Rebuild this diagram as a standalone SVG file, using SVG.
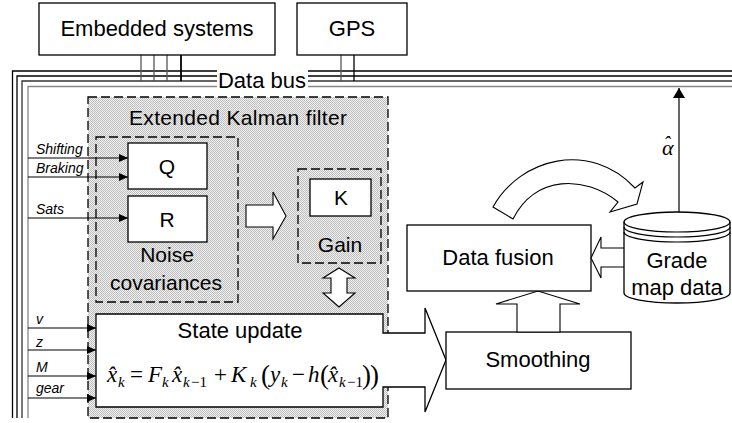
<svg xmlns="http://www.w3.org/2000/svg" width="732" height="423" viewBox="0 0 732 423">
<defs>
<pattern id="stip" width="2" height="2" patternUnits="userSpaceOnUse">
<rect width="2" height="2" fill="#f2f2f2"/>
<rect width="1" height="1" fill="#bcbcbc"/>
<rect x="1" y="1" width="1" height="1" fill="#bcbcbc"/>
</pattern>
<marker id="ah" markerUnits="userSpaceOnUse" markerWidth="9" markerHeight="8" refX="9" refY="4" orient="auto">
<path d="M0,0 L9,4 L0,8 Z" fill="#000"/>
</marker>
<marker id="ahb" markerUnits="userSpaceOnUse" markerWidth="10" markerHeight="12" refX="10" refY="6" orient="auto">
<path d="M0,0 L10,6 L0,12 Z" fill="#000"/>
</marker>
</defs>
<style>
.box{fill:#fff;stroke:#000;stroke-width:1.3}
.dash{fill:none;stroke:#000;stroke-width:1.3;stroke-dasharray:9 4}
.shade{fill:url(#stip);stroke:#000;stroke-width:1.3;stroke-dasharray:9 4}
.t{font-family:"Liberation Sans",Arial,sans-serif;fill:#000;text-anchor:middle}
.big{font-size:22px}
.lab{font-family:"Liberation Sans",Arial,sans-serif;font-style:italic;font-size:14px;fill:#000}
.ln{fill:none;stroke:#000;stroke-width:1.2}
.hol{fill:#fff;stroke:#000;stroke-width:1.1;stroke-linejoin:miter}
.eq{font-family:"Liberation Serif","Times New Roman",serif;font-size:23px;fill:#000}
.it{font-style:italic}
.sb{font-size:15px}
.pr{font-size:27px}
</style>

<g id="connectors">
<g fill="none" stroke-width="1.3">
<path d="M12.5,418 V71 H217 M308,71 H732" stroke="#000"/>
<path d="M17,418 V76 H217 M308,76 H732" stroke="#000"/>
<path d="M22,418 V81 H217 M308,81 H732" stroke="#333"/>
<path d="M28,418 V86.5 H217 M308,86.5 H732" stroke="#888"/>
</g>
<g fill="none" stroke-width="1.3">
<line x1="141" y1="55" x2="141" y2="81" stroke="#555"/>
<line x1="154" y1="55" x2="154" y2="81" stroke="#555"/>
<line x1="167" y1="55" x2="167" y2="81" stroke="#555"/>
<line x1="181" y1="55" x2="181" y2="81" stroke="#000" stroke-width="1.8"/>
<line x1="341" y1="55" x2="341" y2="81" stroke="#555"/>
<line x1="354" y1="55" x2="354" y2="81" stroke="#000"/>
</g>
<line class="ln" x1="679" y1="212" x2="679" y2="88" marker-end="url(#ahb)"/>
</g>

<g id="ekf">
<rect class="shade" x="88" y="97" width="300" height="321"/>
<text class="t" x="238" y="125" font-size="21" textLength="218" lengthAdjust="spacing">Extended Kalman filter</text>
</g>

<g id="noise">
<rect class="dash" x="96" y="137" width="142" height="165"/>
<text class="t" x="167" y="262" font-size="21">Noise</text>
<text class="t" x="166" y="290" font-size="21">covariances</text>
</g>

<g id="q">
<rect class="box" x="128" y="143" width="79" height="46"/>
<text class="t" x="167" y="174" font-size="21">Q</text>
</g>

<g id="r">
<rect class="box" x="128" y="196" width="79" height="46"/>
<text class="t" x="167" y="227" font-size="21">R</text>
</g>

<g id="inputs-noise">
<line class="ln" x1="28" y1="158" x2="128" y2="158" marker-end="url(#ah)"/>
<line class="ln" x1="28" y1="177" x2="128" y2="177" marker-end="url(#ah)"/>
<line class="ln" x1="28" y1="218" x2="128" y2="218" marker-end="url(#ah)"/>
<text class="lab" x="36" y="154">Shifting</text>
<text class="lab" x="36" y="173">Braking</text>
<text class="lab" x="36" y="214">Sats</text>
</g>

<g id="arrow-noise-gain">
<polygon class="hol" points="246,205 273,205 273,192 286,216 273,239 273,227 246,227"/>
</g>

<g id="gain">
<rect class="dash" x="298" y="169" width="83" height="94"/>
<rect class="box" x="310" y="179" width="61" height="37"/>
<text class="t" x="341" y="205" font-size="21">K</text>
<text class="t" x="340" y="252" font-size="21">Gain</text>
</g>

<g id="arrow-gain-state">
<polygon class="hol" points="339,268 355,278 347,278 347,293 355,293 339,307 323,293 331,293 331,278 323,278"/>
</g>

<g id="state-update">
<polygon class="box" points="96,314 383,314 383,333 425,333 425,308 446,360 425,412 425,387 383,387 383,407 96,407"/>
<text class="t big" x="240" y="338">State update</text>
<text class="eq">
<tspan class="it" x="107" y="382">x&#770;</tspan><tspan class="it sb" x="118" y="387">k</tspan>
<tspan x="130" y="382">=</tspan>
<tspan class="it" x="148" y="382">F</tspan><tspan class="it sb" x="162" y="387">k</tspan>
<tspan class="it" x="172" y="382">x&#770;</tspan><tspan class="it sb" x="183" y="387">k</tspan><tspan class="sb" x="191" y="387">&#8722;1</tspan>
<tspan x="214" y="382">+</tspan>
<tspan class="it" x="231" y="382">K</tspan><tspan class="it sb" x="250" y="387">k</tspan>
<tspan class="pr" x="261" y="384">(</tspan>
<tspan class="it" x="270" y="382">y</tspan><tspan class="it sb" x="281" y="387">k</tspan>
<tspan x="292" y="382">&#8722;</tspan>
<tspan class="it" x="308" y="382">h</tspan>
<tspan class="pr" x="320" y="384">(</tspan>
<tspan class="it" x="328" y="382">x&#770;</tspan><tspan class="it sb" x="339" y="387">k</tspan><tspan class="sb" x="347" y="387">&#8722;1</tspan>
<tspan class="pr" x="362" y="384">)</tspan><tspan class="pr" x="370" y="384">)</tspan>
</text>
</g>

<g id="inputs-state">
<line class="ln" x1="28" y1="328" x2="96" y2="328" marker-end="url(#ah)"/>
<line class="ln" x1="28" y1="350" x2="96" y2="350" marker-end="url(#ah)"/>
<line class="ln" x1="28" y1="376" x2="96" y2="376" marker-end="url(#ah)"/>
<line class="ln" x1="28" y1="398" x2="96" y2="398" marker-end="url(#ah)"/>
<text class="lab" x="36" y="324">v</text>
<text class="lab" x="36" y="347">z</text>
<text class="lab" x="36" y="372">M</text>
<text class="lab" x="36" y="393">gear</text>
</g>

<g id="smoothing">
<rect class="box" x="446" y="332" width="185" height="57"/>
<text class="t big" x="538" y="367">Smoothing</text>
</g>

<g id="arrow-smooth-fusion">
<polygon class="hol" points="517,332 517,304 496,304 538,291 580,304 560,304 560,332"/>
</g>

<g id="data-fusion">
<rect class="box" x="407" y="225" width="184" height="66"/>
<text class="t big" x="498" y="265">Data fusion</text>
</g>

<g id="arrow-map-fusion">
<polygon class="hol" points="625,248 601,248 601,237 591,258 601,278 601,267 625,267"/>
</g>

<g id="curved-arrow">
<path class="hol" d="M493,207 C520,158 590,140 635,188 L643,182 L637,204 L610,212 L618,202 C585,175 535,175 513,219 Z"/>
</g>

<g id="grade-map">
<path class="box" d="M624,222 V293 A53,10 0 0 0 730,293 V222 A53,10 0 0 0 624,222 Z"/>
<path class="ln" d="M624,222 A53,10 0 0 0 730,222 M624,227 A53,10 0 0 0 730,227 M624,232 A53,10 0 0 0 730,232"/>
<text class="t big" x="677" y="268">Grade</text>
<text class="t big" x="677" y="295">map data</text>
</g>

<g id="alpha-label">
<text x="662" y="155" font-family="'Liberation Serif','Times New Roman',serif" font-style="italic" font-size="22">&#945;<tspan dx="-10" dy="-4" font-size="20">&#710;</tspan></text>
</g>

<g id="embedded">
<rect class="box" x="39" y="3" width="236" height="52"/>
<text class="t big" x="157" y="36">Embedded systems</text>
</g>

<g id="gps">
<rect class="box" x="297" y="3" width="110" height="52"/>
<text class="t big" x="352" y="36">GPS</text>
</g>

<g id="bus-label">
<text class="t big" x="262" y="88">Data bus</text>
</g>
</svg>
